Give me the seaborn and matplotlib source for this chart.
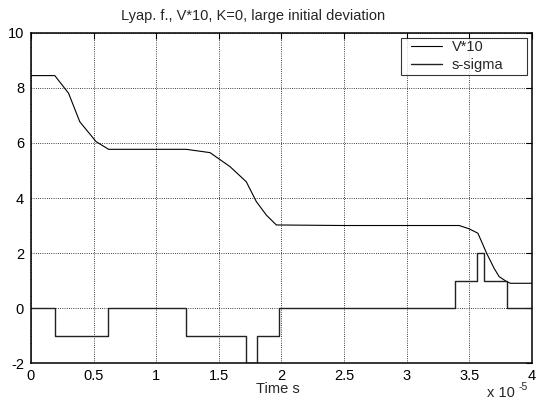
import numpy as np
import pandas as pd
import matplotlib
matplotlib.use('Agg')
import matplotlib.pyplot as plt
from matplotlib.lines import Line2D
from matplotlib.legend_handler import HandlerLine2D
import seaborn as sns

# time axis in units of 1e-5 s
v_time = [0, 0.19, 0.30, 0.39, 0.52, 0.62, 1.0, 1.24, 1.43, 1.59, 1.72, 1.80,
          1.88, 1.96, 2.5, 3.0, 3.42, 3.50, 3.57, 3.64, 3.70, 3.74, 3.80, 3.83, 4.0]
v_vals = [8.45, 8.45, 7.81, 6.77, 6.05, 5.77, 5.77, 5.77, 5.65, 5.14, 4.59, 3.87,
          3.38, 3.02, 3.0, 3.0, 3.0, 2.88, 2.72, 1.99, 1.44, 1.14, 0.96, 0.90, 0.90]

s_time = [0, 0.19, 0.617, 1.235, 1.72, 1.805, 1.98, 3.39, 3.565, 3.62, 3.80, 4.0]
s_vals = [0, -1, 0, -1, -2, -1, 0, 1, 2, 1, 0, 0]

xticks = [0, 0.5, 1, 1.5, 2, 2.5, 3, 3.5, 4]
xtick_labels = ['0', '0.5', '1', '1.5', '2', '2.5', '3', '3.5', '4']
yticks = [-2, 0, 2, 4, 6, 8, 10]

df_v = pd.DataFrame({'t': v_time, 'v': v_vals})
df_s = pd.DataFrame({'t': s_time, 's': s_vals})

sns.set_style('white')
plt.rcParams['font.family'] = ['Liberation Sans', 'DejaVu Sans']
plt.rcParams['axes.unicode_minus'] = False
fs = 10.5

fig = plt.figure(figsize=(5.39, 4.07), dpi=100)
ax = fig.add_axes([0.0575, 0.108, 0.929, 0.811])

sns.lineplot(data=df_v, x='t', y='v', ax=ax, color='black', linewidth=0.8,
             sort=False, label='V*10')
sns.lineplot(data=df_s, x='t', y='s', ax=ax, color='#222222', linewidth=1.0,
             sort=False, drawstyle='steps-post', label='s-sigma')

ax.set_xlim(0, 4)
ax.set_ylim(-2, 10)
ax.set_xticks(xticks)
ax.set_xticklabels(xtick_labels)
ax.set_yticks(yticks)
ax.tick_params(direction='in', labelsize=fs, length=4, colors='black',
               top=True, right=True)
ax.tick_params(axis='x', pad=4)
ax.tick_params(axis='y', pad=5)
ax.grid(True, linestyle=':', color='black', linewidth=0.6)
for sp in ax.spines.values():
    sp.set_color('black')
    sp.set_linewidth(1.1)

ax.set_xlabel('')
ax.set_ylabel('')
fig.text(278 / 539, 1 - 393 / 407, 'Time s', fontsize=fs, ha='center', va='baseline')
fig.text(253.5 / 539, 1 - 20 / 407, 'Lyap. f., V*10, K=0, large initial deviation',
         fontsize=fs, ha='center', va='baseline')

fig.text(487 / 539, 1 - 397 / 407, 'x 10', fontsize=fs, va='baseline')
fig.text(519 / 539, 1 - 390 / 407, '-5', fontsize=7.5, va='baseline')

# MATLAB-like legend: handle indented from the left edge, wide box
leg = ax.legend(loc='upper left', bbox_to_anchor=(0.7385, 0.5, 0.2515, 0.485),
                mode='expand', fontsize=fs, frameon=True, fancybox=False,
                edgecolor='black', handlelength=2.67, borderaxespad=0,
                borderpad=0.15, labelspacing=0.3, handletextpad=0.68,
                handler_map={Line2D: HandlerLine2D(xpad=0.55)})
leg.get_frame().set_linewidth(0.8)

fig.savefig('out.png', dpi=100)
